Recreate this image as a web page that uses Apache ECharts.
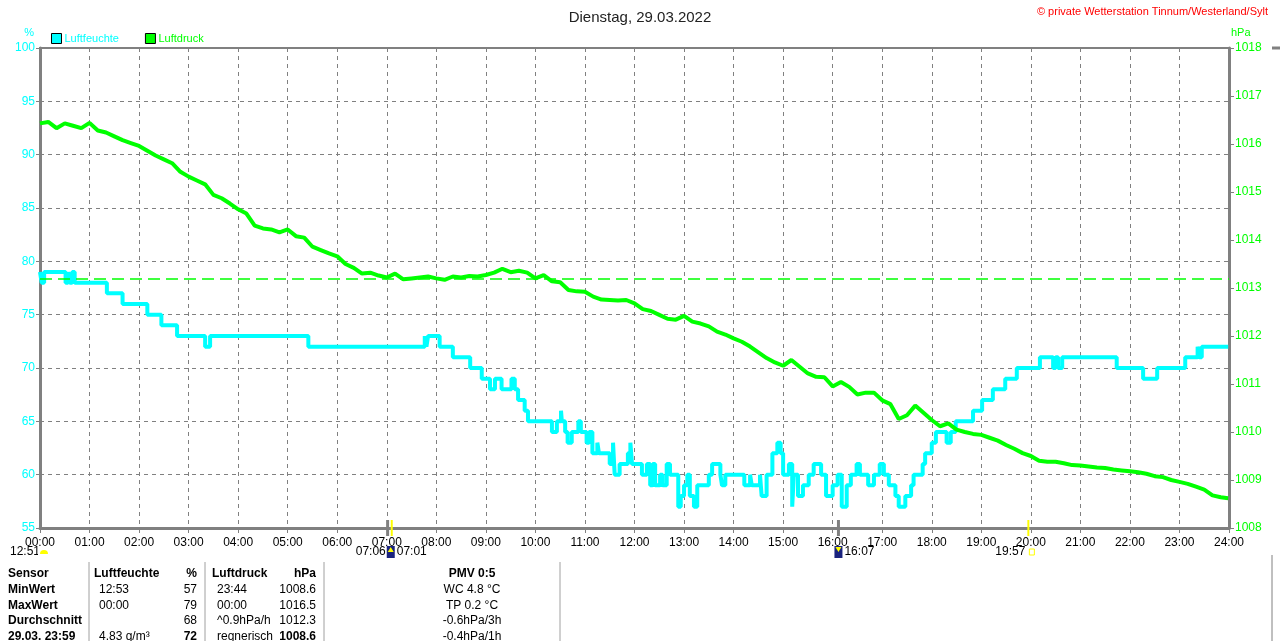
<!DOCTYPE html>
<html>
<head>
<meta charset="utf-8">
<script src="https://cdn.jsdelivr.net/npm/echarts@6/dist/echarts.min.js"></script>
<style>
  html, body { margin: 0; padding: 0; background: #fff; }
  #chart { width: 1280px; height: 641px; }
</style>
</head>
<body>
<div id="chart"></div>
<script>
// Luftfeuchte: Zeitpunkte (Minuten seit 00:00), an denen sich der Wert ändert
const humChangeMin = [0, 2, 5, 31, 34, 36, 39, 42, 81, 100, 130, 147, 166, 200, 206, 325, 466, 468, 470, 484, 500, 521,
  535, 545, 551, 559, 571, 575, 579, 587, 591, 620, 626, 631, 632, 636, 639, 644, 652, 655, 662, 665, 669, 675, 677,
  690, 694, 696, 702, 712, 715, 717, 729, 735, 739, 742, 745, 751, 754, 759, 763, 773, 776, 780, 784, 787, 792, 796,
  810, 814, 824, 826, 830, 853, 860, 862, 872, 874, 880, 887, 893, 897, 900, 907, 911, 913, 918, 924, 931, 937, 946,
  952, 960, 966, 971, 977, 982, 989, 993, 1003, 1010, 1017, 1022, 1028, 1036, 1040, 1048, 1055, 1058, 1069, 1072,
  1080, 1085, 1098, 1103, 1109, 1130, 1141, 1154, 1169, 1183, 1211, 1227, 1230, 1233, 1238, 1304, 1336, 1353, 1387,
  1402, 1404, 1407, 1439];
const humChangeVal = [79, 78, 79, 78, 79, 78, 79, 78, 77, 76, 75, 74, 73, 72, 73, 72, 73, 72, 73, 72, 71, 70,
  69, 68, 69, 68, 69, 68, 67, 66, 65, 64, 65, 66, 65, 64, 63, 64, 65, 64, 63, 64, 62, 63, 62,
  61, 63, 60, 61, 62, 63, 61, 60, 61, 59, 61, 59, 60, 59, 61, 60, 57, 58, 59, 60, 58, 57, 59,
  60, 61, 60, 59, 60, 59, 60, 59, 60, 58, 60, 62, 63, 62, 60, 61, 57, 60, 58, 59, 60, 61, 60,
  58, 59, 60, 57, 59, 60, 61, 60, 59, 60, 61, 60, 59, 58, 57, 58, 59, 60, 61, 62,
  63, 64, 63, 64, 65, 66, 67, 68, 69, 70, 71, 70, 71, 70, 71, 70, 69, 70, 71,
  72, 71, 72, 72];

// Luftdruck alle 10 Minuten (00:00 ... 23:50) plus 23:59
const pressValues = [
  1016.43, 1016.46, 1016.33, 1016.43, 1016.38, 1016.33, 1016.44, 1016.28, 1016.24, 1016.16, 1016.08, 1016.02,
  1015.96, 1015.86, 1015.76, 1015.68, 1015.60, 1015.42, 1015.32, 1015.24, 1015.16, 1014.94, 1014.87, 1014.76,
  1014.64, 1014.55, 1014.30, 1014.24, 1014.22, 1014.16, 1014.22, 1014.08, 1014.05, 1013.86, 1013.79, 1013.72,
  1013.66, 1013.50, 1013.42, 1013.30, 1013.32, 1013.26, 1013.22, 1013.30, 1013.18, 1013.20, 1013.22, 1013.24,
  1013.20, 1013.17, 1013.24, 1013.22, 1013.25, 1013.24, 1013.27, 1013.32, 1013.40, 1013.33, 1013.36, 1013.32,
  1013.20, 1013.27, 1013.14, 1013.12, 1012.96, 1012.93, 1012.92, 1012.82, 1012.76, 1012.75, 1012.74, 1012.75,
  1012.68, 1012.56, 1012.52, 1012.44, 1012.36, 1012.34, 1012.42, 1012.30, 1012.26, 1012.20, 1012.09, 1012.03,
  1011.95, 1011.88, 1011.78, 1011.66, 1011.54, 1011.45, 1011.38, 1011.50, 1011.36, 1011.22, 1011.15, 1011.14,
  1010.95, 1011.04, 1010.94, 1010.78, 1010.82, 1010.82, 1010.66, 1010.58, 1010.27, 1010.35, 1010.55, 1010.40,
  1010.25, 1010.12, 1010.18, 1010.05, 1010.00, 1009.96, 1009.94, 1009.88, 1009.82, 1009.73, 1009.65, 1009.56,
  1009.50, 1009.40, 1009.38, 1009.38, 1009.35, 1009.31, 1009.30, 1009.28, 1009.26, 1009.25, 1009.22, 1009.20,
  1009.18, 1009.16, 1009.13, 1009.08, 1009.06, 1009.00, 1008.96, 1008.92, 1008.86, 1008.80, 1008.68, 1008.64,
  1008.62];
const pressLastMin = 1439;
const pressRefLine = 1013.2;

// Sonnen-/Mondzeiten unter der Zeitachse (Minuten)
const sunRiseMin = 426, sunSetMin = 1197, moonRiseMin = 421, moonSetMin = 967;

// Tabelle unten
const tableHead = ['Sensor', 'Luftfeuchte', '%', 'Luftdruck', 'hPa', 'PMV 0:5'];
const tableRows = [
  ['MinWert', '12:53', '57', '23:44', '1008.6', 'WC 4.8 °C'],
  ['MaxWert', '00:00', '79', '00:00', '1016.5', 'TP 0.2 °C'],
  ['Durchschnitt', '', '68', '^0.9hPa/h', '1012.3', '-0.6hPa/3h'],
  ['29.03. 23:59', '4.83 g/m³', '72', 'regnerisch', '1008.6', '-0.4hPa/1h']
];

const CYAN = '#00ffff', GREEN = '#00ff00', GRAY = '#808080';
const FONT = "'Liberation Sans', Arial, sans-serif";

const humData = humChangeMin.map((m, i) => [m, humChangeVal[i]]);
const pressData = pressValues.map((v, i) => [i < 144 ? i * 10 : pressLastMin, v]);

const pad = n => (n < 10 ? '0' : '') + n;

const chart = echarts.init(document.getElementById('chart'));

chart.setOption({
  backgroundColor: '#fff',
  animation: false,
  textStyle: { fontFamily: FONT },
  title: {
    text: 'Dienstag, 29.03.2022',
    left: 'center',
    top: 5,
    textStyle: { fontSize: 15, fontWeight: 'normal', color: '#222', fontFamily: FONT }
  },
  legend: {
    left: 46,
    top: 28,
    icon: 'rect',
    itemWidth: 10,
    itemHeight: 10,
    itemGap: 26,
    data: [
      { name: 'Luftfeuchte', textStyle: { color: CYAN } },
      { name: 'Luftdruck', textStyle: { color: GREEN } }
    ],
    textStyle: { fontSize: 11, fontFamily: FONT, padding: [0, 0, 0, -2] },
    itemStyle: { borderColor: '#000', borderWidth: 1 }
  },
  grid: { left: 40, right: 51, top: 48, bottom: 113, show: true, borderColor: GRAY, borderWidth: 2 },
  xAxis: {
    type: 'value',
    min: 0,
    max: 1440,
    interval: 60,
    axisLine: { lineStyle: { color: GRAY, width: 3 } },
    axisTick: { show: true, length: 5, lineStyle: { color: GRAY } },
    axisLabel: { color: '#000', fontSize: 12, margin: 9, formatter: v => pad(v / 60) + ':00' },
    splitLine: { show: true, lineStyle: { color: GRAY, type: [4, 4], width: 1 } }
  },
  yAxis: [
    {
      type: 'value',
      name: '%',
      nameLocation: 'end',
      nameGap: 10,
      nameTextStyle: { color: CYAN, fontSize: 11, align: 'right', padding: [0, 6, 0, 0] },
      min: 55,
      max: 100,
      interval: 5,
      axisLine: { show: true, lineStyle: { color: GRAY, width: 3 } },
      axisTick: { show: true, length: 4, lineStyle: { color: GRAY } },
      axisLabel: { color: CYAN, fontSize: 12, margin: 5, formatter: v => String(v) },
      splitLine: { show: true, lineStyle: { color: GRAY, type: [4, 4], width: 1 } }
    },
    {
      type: 'value',
      name: 'hPa',
      nameLocation: 'end',
      nameGap: 10,
      nameTextStyle: { color: GREEN, fontSize: 11, align: 'left', padding: [0, 0, 0, 2] },
      min: 1008,
      max: 1018,
      interval: 1,
      position: 'right',
      axisLine: { show: true, lineStyle: { color: GRAY, width: 3 } },
      axisTick: { show: true, length: 5, lineStyle: { color: GRAY } },
      axisLabel: { color: GREEN, fontSize: 12, margin: 6, formatter: v => String(v) },
      splitLine: { show: false }
    }
  ],
  series: [
    {
      name: 'Luftfeuchte',
      type: 'line',
      yAxisIndex: 0,
      step: 'end',
      data: humData,
      symbol: 'none',
      itemStyle: { color: CYAN },
      lineStyle: { color: CYAN, width: 4 },
      z: 3
    },
    {
      name: 'Luftdruck',
      type: 'line',
      yAxisIndex: 1,
      data: pressData,
      symbol: 'none',
      itemStyle: { color: GREEN },
      lineStyle: { color: GREEN, width: 4 },
      z: 4,
      markLine: {
        silent: true,
        symbol: 'none',
        label: { show: false },
        lineStyle: { color: GREEN, type: [12, 6], width: 1.5 },
        data: [{ yAxis: pressRefLine }]
      }
    }
  ]
});

// Annotationen und Tabelle
function buildGraphics() {
  const g = [];
  const xAt = m => chart.convertToPixel({ xAxisIndex: 0 }, m);
  const axisY = 528;
  const txt = (x, y, s, opt) => g.push({
    type: 'text', x: x, y: y, silent: true,
    style: Object.assign({ text: s, fill: '#000', font: '12px ' + FONT, textVerticalAlign: 'middle' }, opt || {})
  });

  // Copyright
  txt(1268, 12, '© private Wetterstation Tinnum/Westerland/Sylt', { fill: '#ff0000', font: '11px ' + FONT, textAlign: 'right' });

  // Markierungen an der Zeitachse
  const tick = (m, color, w) => g.push({
    type: 'line', silent: true, z: 10,
    shape: { x1: xAt(m), y1: axisY - 8, x2: xAt(m), y2: axisY + 8 },
    style: { stroke: color, lineWidth: w }
  });
  tick(moonRiseMin, GRAY, 3);
  tick(moonSetMin, GRAY, 3);
  tick(sunRiseMin, '#ffff00', 2);
  tick(sunSetMin, '#ffff00', 2);

  const rowY = 552;
  // Mond links
  txt(10, rowY, '12:51');
  g.push({ type: 'circle', silent: true, shape: { cx: 44, cy: rowY + 2, r: 4 }, style: { fill: '#ffff00' } });
  g.push({ type: 'rect', silent: true, shape: { x: 38, y: rowY + 2, width: 12, height: 4 }, style: { fill: '#fff' } });
  // Sonnenaufgang / Mond
  txt(xAt(sunRiseMin) - 6, rowY, '07:06', { textAlign: 'right' });
  g.push({ type: 'rect', silent: true, shape: { x: xAt(sunRiseMin) - 5, y: rowY - 6, width: 8, height: 12 }, style: { fill: '#1a237e' } });
  g.push({ type: 'polygon', silent: true, shape: { points: [[xAt(sunRiseMin) - 1, rowY - 5], [xAt(sunRiseMin) - 4, rowY], [xAt(sunRiseMin) + 2, rowY]] }, style: { fill: '#ffff00' } });
  txt(xAt(sunRiseMin) + 5, rowY, '07:01');
  // Mond unter
  g.push({ type: 'rect', silent: true, shape: { x: xAt(moonSetMin) - 4, y: rowY - 6, width: 8, height: 12 }, style: { fill: '#1a237e' } });
  g.push({ type: 'polygon', silent: true, shape: { points: [[xAt(moonSetMin) - 3, rowY - 5], [xAt(moonSetMin) + 3, rowY - 5], [xAt(moonSetMin), rowY]] }, style: { fill: '#ffff00' } });
  txt(xAt(moonSetMin) + 6, rowY, '16:07');
  // Sonnenuntergang
  txt(xAt(sunSetMin) - 3, rowY, '19:57', { textAlign: 'right' });
  g.push({ type: 'rect', silent: true, shape: { x: xAt(sunSetMin) + 1, y: rowY - 3, width: 5, height: 6 }, style: { fill: 'none', stroke: '#ffff00', lineWidth: 1 } });

  // Tabelle
  const colX = [8, 94, 197, 212, 316, 472];
  const colAlign = ['left', 'left', 'right', 'left', 'right', 'center'];
  const rowsY = [574, 590, 606, 621, 637];
  const sepX = [89, 205, 324, 560];
  sepX.forEach(x => g.push({
    type: 'line', silent: true,
    shape: { x1: x, y1: 562, x2: x, y2: 641 },
    style: { stroke: '#a0a0a0', lineWidth: 1 }
  }));
  tableHead.forEach((s, c) => txt(colX[c], rowsY[0], s, { textAlign: colAlign[c], font: 'bold 12px ' + FONT }));
  tableRows.forEach((row, r) => row.forEach((s, c) => {
    const isBold = c === 0 || (r === 3 && (c === 2 || c === 4));
    let x = colX[c];
    if (c === 1 || c === 3) x += 5;
    txt(x, rowsY[r + 1], s, { textAlign: colAlign[c], font: (isBold ? 'bold ' : '') + '12px ' + FONT });
  }));

  // angeschnittenes Nachbardiagramm am rechten Rand
  g.push({ type: 'line', silent: true, shape: { x1: 1272, y1: 48, x2: 1280, y2: 48 }, style: { stroke: GRAY, lineWidth: 3 } });
  g.push({ type: 'line', silent: true, shape: { x1: 1272, y1: 555, x2: 1272, y2: 641 }, style: { stroke: GRAY, lineWidth: 1 } });

  return g;
}

chart.setOption({ graphic: buildGraphics() });
</script>
</body>
</html>
